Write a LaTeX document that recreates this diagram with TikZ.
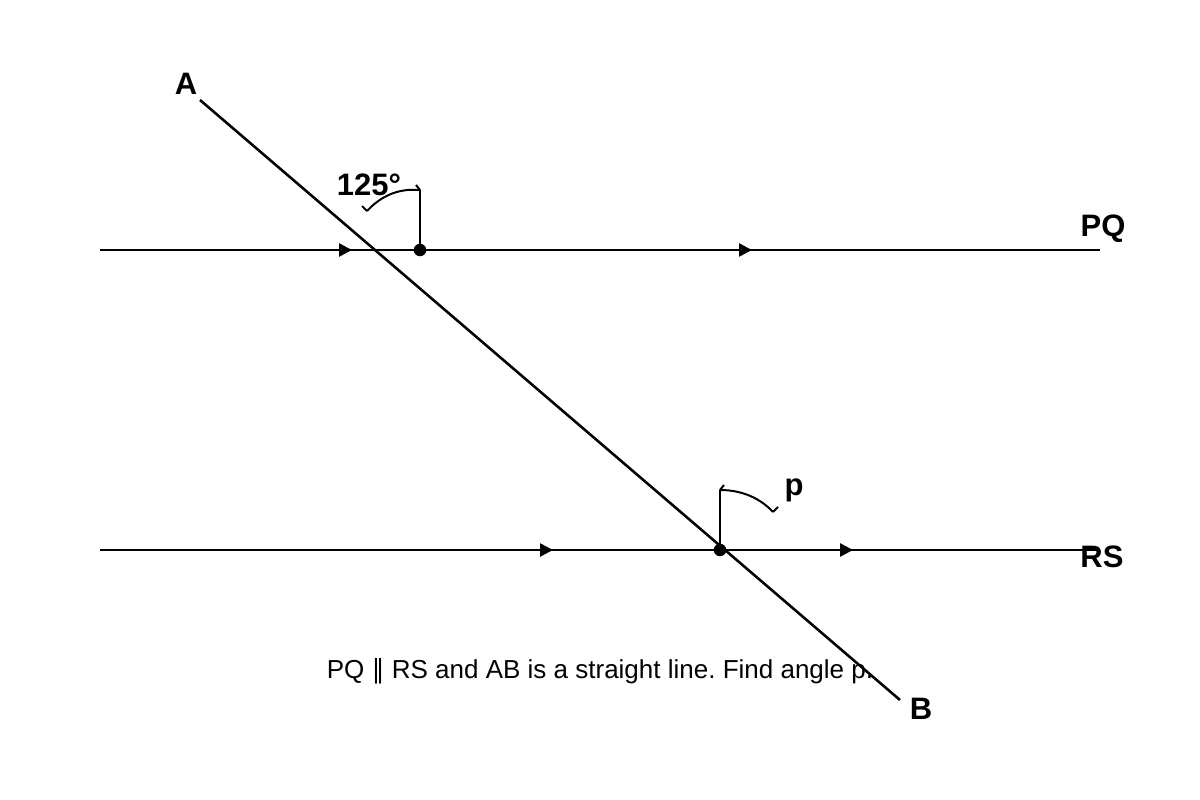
\documentclass[tikz,border=0pt]{standalone}
\usepackage{fontspec}
\setmainfont{Liberation Sans}
\newfontfamily\dejavu{DejaVu Sans}
\usetikzlibrary{arrows.meta,decorations.markings}
\frenchspacing
\tikzset{
  geo/.style={line width=2.6pt,black},
  thin arc/.style={line width=2pt,black},
  lbl/.style={font=\bfseries\fontsize{31}{35}\selectfont,inner sep=0pt},
  dotpt/.style={circle,fill=black,inner sep=0pt,minimum size=12.5pt}
}
\begin{document}
\begin{tikzpicture}[x=1pt,y=-1pt]
\useasboundingbox (0,0) rectangle (1200,800);
% coordinates
\coordinate (P0) at (100,250);
\coordinate (Q0) at (1100,250);
\coordinate (R0) at (100,550);
\coordinate (S0) at (1100,550);
\coordinate (A0) at (200,100);
\coordinate (B0) at (900,700);
% lines
\draw[geo,
  postaction={decorate},decoration={markings,
    mark=at position 0.252 with {\arrow{Triangle[length=13pt,width=13pt]}},
    mark=at position 0.652 with {\arrow{Triangle[length=13pt,width=13pt]}}}]
  (P0) -- (Q0);
\draw[geo,
  postaction={decorate},decoration={markings,
    mark=at position 0.453 with {\arrow{Triangle[length=13pt,width=13pt]}},
    mark=at position 0.753 with {\arrow{Triangle[length=13pt,width=13pt]}}}]
  (R0) -- (S0);
\draw[geo] (A0) -- (B0);
% points
\node[dotpt] (X) at (420,250) {};
\node[dotpt] (Y) at (720,550) {};
\coordinate (Xt) at (420,190);
\coordinate (Yt) at (720,490);
\coordinate (Xe) at (367,211);
\coordinate (Ye) at (773,512);
% angle marks
\draw[thin arc] (X.center) -- (Xt);
\draw[thin arc] (Xt) .. controls (397,188) and (380,197) .. (Xe);
\draw[thin arc] (Xe) -- ++(-5,-5);
\draw[thin arc] (Xt) -- ++(-4,-5);
\draw[thin arc] (Y.center) -- (Yt);
\draw[thin arc] (Yt) .. controls (743,490) and (761,499) .. (Ye);
\draw[thin arc] (Yt) -- ++(4,-5);
\draw[thin arc] (Ye) -- ++(5,-5);
% labels
\node[lbl] (la) at (186,84) {A};
\node[lbl] (lb) at (921,709) {B};
\node[lbl] (lpq) at (1103,229) {PQ};
\node[lbl] (lrs) at (1102,557) {RS};
\node[lbl] (l125) at (369,185) {125°};
\node[lbl] (lp) at (794,490) {p};
\node[font=\fontsize{26}{30}\selectfont,inner sep=0pt] (cap) at (600,671) {PQ {\dejavu ∥} RS and AB is a straight line. Find angle p.};
\end{tikzpicture}
\end{document}
